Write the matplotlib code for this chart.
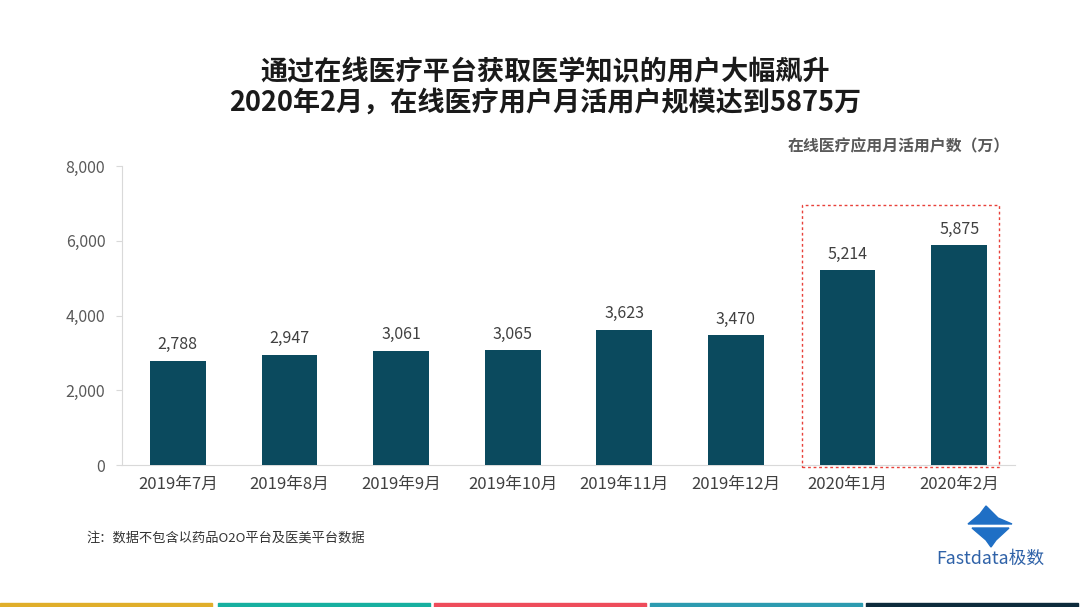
import matplotlib
matplotlib.use("Agg")
import matplotlib.pyplot as plt
from matplotlib.patches import Rectangle, Polygon

plt.rcParams['font.family'] = ['Noto Sans CJK SC', 'DejaVu Sans']

categories = ["2019年7月", "2019年8月", "2019年9月", "2019年10月", "2019年11月",
              "2019年12月", "2020年1月", "2020年2月"]
values = [2788, 2947, 3061, 3065, 3623, 3470, 5214, 5875]
yticks = [0, 2000, 4000, 6000, 8000]

W, H = 1080, 607
fig = plt.figure(figsize=(W / 100, H / 100), dpi=100)
fig.patch.set_facecolor("white")

def fx(px):
    return px / W

def fy(py):
    return 1 - py / H

ax = fig.add_axes([fx(122), fy(465), fx(1015) - fx(122), fy(166) - fy(465)])
x = list(range(len(categories)))
bars = ax.bar(x, values, width=0.5, color="#0B4A5E", zorder=3)
for xi, v in zip(x, values):
    ax.text(xi, v + 200, f"{v:,}", ha="center", va="bottom", fontsize=11.5, color="#404040")

ax.set_xlim(-0.5, len(categories) - 0.5)
ax.set_ylim(0, 8000)
ax.set_yticks(yticks)
ax.set_yticklabels([f"{t:,}" for t in yticks], fontsize=11.5, color="#595959")
ax.set_xticks(x)
ax.set_xticklabels(categories, fontsize=12, color="#404040")
for s in ["top", "right"]:
    ax.spines[s].set_visible(False)
ax.spines["left"].set_color("#D9D9D9")
ax.spines["bottom"].set_color("#D9D9D9")
ax.tick_params(axis="y", length=4, color="#D9D9D9", pad=8)
ax.tick_params(axis="x", length=0, pad=8)

# red dashed highlight box
fig.patches.append(Rectangle((fx(802), fy(467)), fx(999) - fx(802), fy(205) - fy(467),
                             transform=fig.transFigure, fill=False, edgecolor="#E8413A",
                             linestyle=(0, (2, 2)), linewidth=1.0))

# titles
fig.text(fx(545), fy(72), "通过在线医疗平台获取医学知识的用户大幅飙升", ha="center", va="center",
         fontsize=19.5, fontweight="bold", color="#1A1A1A")
fig.text(fx(545), fy(103), "2020年2月，在线医疗用户月活用户规模达到5875万", ha="center", va="center",
         fontsize=19.5, fontweight="bold", color="#1A1A1A")
fig.text(fx(1010), fy(146), "在线医疗应用月活用户数（万）", ha="right", va="center",
         fontsize=11.4, fontweight="bold", color="#595959")

# note
fig.text(fx(86), fy(538), "注：数据不包含以药品O2O平台及医美平台数据", ha="left", va="center",
         fontsize=9.5, color="#333333")

# logo
logo_c = "#1F6FC5"
fig.patches.append(Polygon([(fx(968), fy(524)), (fx(980), fy(514)), (fx(986), fy(506)),
                            (fx(991), fy(511)), (fx(998), fy(518)), (fx(1012), fy(524))],
                           closed=True, transform=fig.transFigure, color=logo_c))
fig.patches.append(Polygon([(fx(972), fy(528)), (fx(1009), fy(528)), (fx(996), fy(540)),
                            (fx(991), fy(547)), (fx(986), fy(540))],
                           closed=True, transform=fig.transFigure, color=logo_c))
fig.text(fx(990), fy(559), "Fastdata极数", ha="center", va="center", fontsize=12.8,
         color="#2F62A8")

# bottom colour strip
strip_colors = ["#E0AE2A", "#17B0A0", "#EE4C5B", "#2C9BB0", "#0D2B3C"]
seg = W / 5
for i, c in enumerate(strip_colors):
    fig.patches.append(Rectangle((fx(i * seg + (2 if i else 0)), 0), fx(seg - 4), fy(603),
                                 transform=fig.transFigure, color=c))

fig.savefig("out.png", dpi=100, facecolor="white")
